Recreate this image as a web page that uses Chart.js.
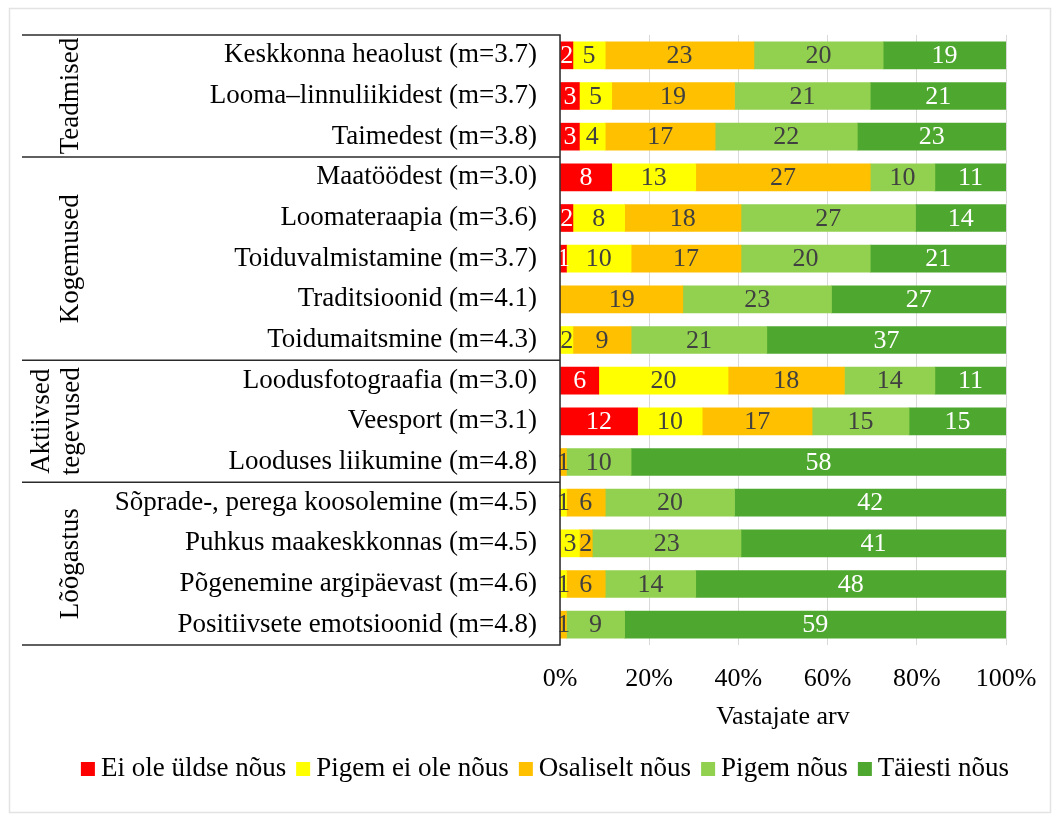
<!DOCTYPE html>
<html>
<head>
<meta charset="utf-8">
<script src="https://cdn.jsdelivr.net/npm/chart.js@4.4.7/dist/chart.umd.min.js"></script>
<style>
    body { margin: 0; background: #fff; }
    #wrap { width: 1063px; height: 816px; }
</style>
</head>
<body>
<div id="wrap"><canvas id="likertChart" width="1063" height="816"></canvas></div>
<script>
// categories, top to bottom
const categories = [
    "Keskkonna heaolust (m=3.7)",
    "Looma\u2013linnuliikidest (m=3.7)",
    "Taimedest (m=3.8)",
    "Maatöödest (m=3.0)",
    "Loomateraapia (m=3.6)",
    "Toiduvalmistamine (m=3.7)",
    "Traditsioonid (m=4.1)",
    "Toidumaitsmine (m=4.3)",
    "Loodusfotograafia (m=3.0)",
    "Veesport (m=3.1)",
    "Looduses liikumine (m=4.8)",
    "Sõprade-, perega koosolemine (m=4.5)",
    "Puhkus maakeskkonnas (m=4.5)",
    "Põgenemine argipäevast (m=4.6)",
    "Positiivsete emotsioonid (m=4.8)",
];

// respondent counts per answer
const eiOleNous     = [2, 3, 3, 8, 2, 1, 0, 0, 6, 12, 0, 0, 0, 0, 0];
const pigemEiNous   = [5, 5, 4, 13, 8, 10, 0, 2, 20, 10, 0, 1, 3, 1, 0];
const osaliseltNous = [23, 19, 17, 27, 18, 17, 19, 9, 18, 17, 1, 6, 2, 6, 1];
const pigemNous     = [20, 21, 22, 10, 27, 20, 23, 21, 14, 15, 10, 20, 23, 14, 9];
const taiestiNous   = [19, 21, 23, 11, 14, 21, 27, 37, 11, 15, 58, 42, 41, 48, 59];

const seriesNames = ["Ei ole üldse nõus", "Pigem ei ole nõus", "Osaliselt nõus", "Pigem nõus", "Täiesti nõus"];
const xTicks = [0, 20, 40, 60, 80, 100];

// groups: label lines, first row
const groupNames = [["Teadmised"], ["Kogemused"], ["Aktiivsed", "tegevused"], ["Lõõgastus"]];
const groupFirst = [0, 3, 8, 11];

const FONT = "'Liberation Serif', 'Times New Roman', serif";
const colors = ["#ff0000", "#ffff00", "#ffc000", "#92d050", "#4ea72e"];
const labelColors = ["#ffffff", "#404040", "#404040", "#404040", "#ffffff"];

const allCounts = [eiOleNous, pigemEiNous, osaliseltNous, pigemNous, taiestiNous];
const totals = categories.map((_, i) => allCounts.reduce((s, arr) => s + arr[i], 0));

// ── frame + white background ──
const framePlugin = {
    id: "frame",
    beforeDraw(chart) {
        const ctx = chart.ctx;
        ctx.save();
        ctx.fillStyle = "#fff";
        ctx.fillRect(0, 0, chart.width, chart.height);
        ctx.strokeStyle = "#e3e3e3";
        ctx.lineWidth = 1.5;
        ctx.strokeRect(9.5, 8.5, 1041, 804);
        ctx.restore();
    },
};

// ── count labels inside segments ──
const countLabels = {
    id: "countLabels",
    afterDatasetsDraw(chart) {
        const ctx = chart.ctx;
        ctx.save();
        ctx.font = "26px " + FONT;
        ctx.textAlign = "center";
        ctx.textBaseline = "middle";
        chart.data.datasets.forEach((ds, di) => {
            chart.getDatasetMeta(di).data.forEach((bar, i) => {
                const n = ds.counts[i];
                if (!n) return;
                ctx.fillStyle = labelColors[di];
                ctx.fillText(String(n), (bar.x + bar.base) / 2, bar.y + 1);
            });
        });
        ctx.restore();
    },
};

// ── group box and rotated group names ──
const groupBox = {
    id: "groupBox",
    afterDraw(chart) {
        const ctx = chart.ctx;
        const y = chart.scales.y;
        const area = chart.chartArea;
        const left = 22;
        const between = (i) => (y.getPixelForValue(i - 1) + y.getPixelForValue(i)) / 2;
        ctx.save();
        ctx.strokeStyle = "#2b2b2b";
        ctx.lineWidth = 1.5;
        ctx.beginPath();
        ctx.moveTo(left, area.top);
        ctx.lineTo(area.left, area.top);
        ctx.lineTo(area.left, area.bottom);
        ctx.lineTo(left, area.bottom);
        groupFirst.slice(1).forEach((f) => {
            const yy = between(f);
            ctx.moveTo(left, yy);
            ctx.lineTo(area.left, yy);
        });
        ctx.stroke();

        ctx.fillStyle = "#000";
        ctx.font = "27px " + FONT;
        ctx.textAlign = "center";
        ctx.textBaseline = "middle";
        groupNames.forEach((lines, g) => {
            const top = g === 0 ? area.top : between(groupFirst[g]);
            const bottom = g === groupNames.length - 1 ? area.bottom : between(groupFirst[g + 1]);
            const cy = (top + bottom) / 2;
            const xs = lines.length === 1 ? [71] : [42, 72];
            lines.forEach((txt, k) => {
                ctx.save();
                ctx.translate(xs[k], cy);
                ctx.rotate(-Math.PI / 2);
                ctx.fillText(txt, 0, 0);
                ctx.restore();
            });
        });
        ctx.restore();
    },
};

// ── legend row under the axis title ──
const legendRow = {
    id: "legendRow",
    afterDraw(chart) {
        const ctx = chart.ctx;
        const box = 14, gapText = 6, gapItem = 10, cy = 769;
        ctx.save();
        ctx.font = "27px " + FONT;
        ctx.textBaseline = "middle";
        ctx.textAlign = "left";
        const items = chart.data.datasets.map((ds) => ({
            text: ds.label, color: ds.backgroundColor, w: ctx.measureText(ds.label).width,
        }));
        const total = items.reduce((s, it) => s + box + gapText + it.w, 0) + gapItem * (items.length - 1);
        let x = 545 - total / 2;
        items.forEach((it) => {
            ctx.fillStyle = it.color;
            ctx.fillRect(x, cy - box / 2, box, box);
            x += box + gapText;
            ctx.fillStyle = "#000";
            ctx.fillText(it.text, x, cy);
            x += it.w + gapItem;
        });
        ctx.restore();
    },
};

new Chart(document.getElementById("likertChart"), {
    type: "bar",
    data: {
        labels: categories,
        datasets: allCounts.map((arr, di) => ({
            label: seriesNames[di],
            counts: arr,
            data: arr.map((v, i) => (v / totals[i]) * 100),
            backgroundColor: colors[di],
            borderWidth: 0,
            barThickness: 27,
        })),
    },
    options: {
        indexAxis: "y",
        responsive: false,
        animation: false,
        layout: { padding: { left: 22, right: 57, top: 35, bottom: 71 } },
        plugins: {
            tooltip: { enabled: false },
            legend: { display: false },
        },
        scales: {
            x: {
                stacked: true,
                min: 0,
                max: 100,
                afterBuildTicks: (scale) => { scale.ticks = xTicks.map((v) => ({ value: v })); },
                afterFit: (scale) => { scale.height = 100; },
                ticks: {
                    padding: 19,
                    color: "#000",
                    font: { family: FONT, size: 26 },
                    callback: (v) => v + "%",
                },
                grid: { color: "#d9d9d9", drawTicks: false },
                border: { display: false },
                title: {
                    display: true,
                    text: "Vastajate arv",
                    color: "#000",
                    font: { family: FONT, size: 26 },
                    padding: { top: 4, bottom: 12 },
                },
            },
            y: {
                stacked: true,
                afterFit: (scale) => {
                    scale.width = 538;
                    scale.paddingTop = 0;
                    scale.paddingBottom = 0;
                },
                ticks: {
                    padding: 15,
                    color: "#000",
                    font: { family: FONT, size: 27 },
                },
                grid: { display: false },
                border: { display: false },
            },
        },
    },
    plugins: [framePlugin, countLabels, groupBox, legendRow],
});
</script>
</body>
</html>
